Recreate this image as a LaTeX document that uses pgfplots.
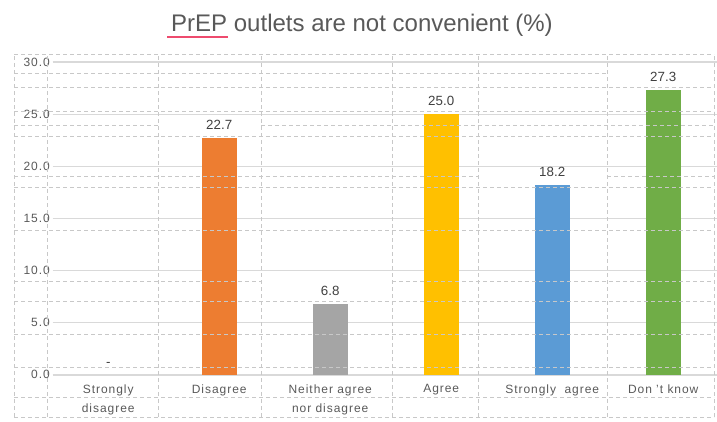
\documentclass[border=0pt]{standalone}
\usepackage{fontspec}
\setmainfont{Liberation Sans}
\usepackage{pgfplots}
\pgfplotsset{compat=1.18}
\definecolor{cOrange}{HTML}{ED7D31}
\definecolor{cGray}{HTML}{A5A5A5}
\definecolor{cYellow}{HTML}{FFC000}
\definecolor{cBlue}{HTML}{5B9BD5}
\definecolor{cGreen}{HTML}{70AD47}
\definecolor{txt}{HTML}{595959}
\definecolor{lbl}{HTML}{404040}
\definecolor{gridc}{HTML}{D9D9D9}
\definecolor{dashc}{HTML}{C8C8C8}
\definecolor{uline}{HTML}{EE4B6E}
\newcommand{\ticksfont}{\fontsize{9}{14.25}\selectfont\addfontfeature{LetterSpace=8}}
\begin{document}
\begin{tikzpicture}[x=0.75pt,y=0.75pt]
\useasboundingbox (0,0) rectangle (717,421);
\begin{axis}[
  at={(47.5,44.3)}, anchor=south west,
  scale only axis, width=499.5pt, height=234.5pt,
  xmin=-0.5, xmax=5.5, ymin=0, ymax=30,
  ybar, bar width=26.25pt, bar shift=0pt,
  axis line style={draw=none},
  major tick length=0pt,
  ymajorgrids, major grid style={gridc, line width=1.1pt},
  ytick={0,5,...,30},
  /pgf/number format/assume math mode=true,
  yticklabel style={/pgf/number format/.cd, fixed, fixed zerofill, precision=1, assume math mode=true, /tikz/.cd, font=\ticksfont, text=txt, inner sep=2pt},
  xtick={0,...,5},
  xticklabels={Strongly\\disagree, Disagree, Neither agree\\nor disagree, Agree, Strongly\ \ agree, Don 't know},
  xticklabel style={align=center, font=\ticksfont, text=txt, yshift=-3.75pt},
  nodes near coords={\pgfmathprintnumber[fixed,fixed zerofill,precision=1,assume math mode=true]{\pgfplotspointmeta}},
  every node near coord/.append style={font=\fontsize{10}{12}\selectfont, text=lbl, inner sep=0pt, yshift=6pt},
]
\addplot[draw=none, fill=none, bar shift=0pt, nodes near coords={-}] coordinates {(0,0)};
\addplot[draw=none, fill=cOrange, bar shift=0pt] coordinates {(1,22.7)};
\addplot[draw=none, fill=cGray, bar shift=0pt] coordinates {(2,6.8)};
\addplot[draw=none, fill=cYellow, bar shift=0pt] coordinates {(3,25.0)};
\addplot[draw=none, fill=cBlue, bar shift=0pt] coordinates {(4,18.2)};
\addplot[draw=none, fill=cGreen, bar shift=0pt] coordinates {(5,27.3)};
\end{axis}
\begin{scope}[dashc, line width=0.75pt, dash pattern=on 3pt off 2.25pt]
\foreach \x in {14,47,158,261,392,478,607,714} \draw (\x,4) -- (\x,366);
\foreach \y in {366,333,309,284,233,190,119,86,53,23,4} \draw (14,\y) -- (714,\y);
\draw (14,347) -- (607,347);
\draw (14,295) -- (158,295); \draw (261,295) -- (714,295);
\draw (14,244) -- (478,244); \draw (607,244) -- (714,244);
\draw (14,139) -- (261,139); \draw (392,139) -- (714,139);
\end{scope}
\node[anchor=base, text=txt, font=\fontsize{18}{20}\selectfont, inner sep=0pt] at (362,389) {PrEP outlets are not convenient (\%)};
\draw[uline, line width=1.5pt] (167,384) -- (228,384);
\end{tikzpicture}
\end{document}
